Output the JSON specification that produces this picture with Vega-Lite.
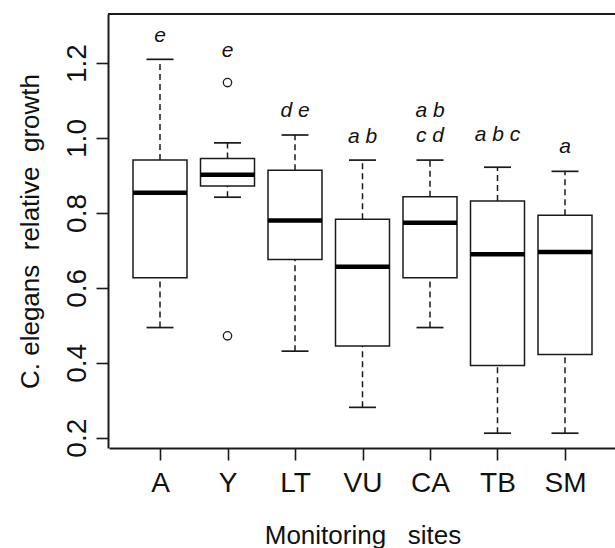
{
  "$schema": "https://vega.github.io/schema/vega-lite/v6.json",
  "autosize": "none",
  "width": 507,
  "height": 434,
  "padding": {"left": 108, "top": 14, "right": 0, "bottom": 100},
  "background": "white",
  "config": {
    "view": {"stroke": null},
    "font": "Liberation Sans, sans-serif",
    "axis": {"grid": false, "labelFlush": false, "labelOverlap": false, "domainColor": "#1a1a1a", "domainWidth": 2, "tickColor": "#1a1a1a", "tickWidth": 1.6, "tickSize": 12, "labelColor": "#111", "titleColor": "#111", "labelFontSize": 28, "titleFontSize": 26, "titleFontWeight": "normal", "labelFont": "Liberation Sans, sans-serif", "titleFont": "Liberation Sans, sans-serif"}
  },
  "datasets": {
    "boxes": [
      {"site": "A", "lower": 0.494, "q1": 0.627, "median": 0.854, "q3": 0.941, "upper": 1.210},
      {"site": "Y", "lower": 0.842, "q1": 0.872, "median": 0.902, "q3": 0.945, "upper": 0.987},
      {"site": "LT", "lower": 0.431, "q1": 0.676, "median": 0.780, "q3": 0.914, "upper": 1.008},
      {"site": "VU", "lower": 0.281, "q1": 0.445, "median": 0.656, "q3": 0.783, "upper": 0.941},
      {"site": "CA", "lower": 0.494, "q1": 0.627, "median": 0.774, "q3": 0.843, "upper": 0.941},
      {"site": "TB", "lower": 0.212, "q1": 0.393, "median": 0.690, "q3": 0.832, "upper": 0.922},
      {"site": "SM", "lower": 0.212, "q1": 0.422, "median": 0.696, "q3": 0.794, "upper": 0.911}
    ],
    "outliers": [
      {"site": "Y", "value": 1.148},
      {"site": "Y", "value": 0.472}
    ],
    "letters": [
      {"site": "A", "label": "e", "value": 1.257},
      {"site": "Y", "label": "e", "value": 1.215},
      {"site": "LT", "label": "d e", "value": 1.055},
      {"site": "VU", "label": "a b", "value": 0.987},
      {"site": "CA", "label": "a b", "value": 1.055},
      {"site": "CA", "label": "c d", "value": 0.990},
      {"site": "TB", "label": "a b c", "value": 0.993},
      {"site": "SM", "label": "a", "value": 0.959}
    ]
  },
  "layer": [
    {
      "data": {"name": "boxes"},
      "mark": {"type": "rule", "color": "#1a1a1a", "strokeWidth": 2},
      "encoding": {
        "y": {"datum": 1.331, "type": "quantitative", "scale": {"domain": [0.1725, 1.331], "nice": false, "zero": false},
          "axis": {"orient": "left", "values": [0.2, 0.4, 0.6, 0.8, 1.0, 1.2], "format": ".1f", "labelAngle": 270, "labelAlign": "center", "labelBaseline": "bottom", "labelPadding": 5, "titlePadding": 20,
            "title": "C. elegans\u00a0\u00a0relative\u00a0\u00a0growth"}}
      }
    },
    {
      "data": {"name": "boxes"},
      "mark": {"type": "rule", "color": "#1a1a1a", "strokeWidth": 1.5, "strokeDash": [6, 4]},
      "encoding": {
        "x": {"field": "site", "type": "nominal", "scale": {"type": "point", "domain": ["A", "Y", "LT", "VU", "CA", "TB", "SM"], "range": [1, 508], "padding": 0.7556},
          "axis": {"orient": "bottom", "labelAngle": 0, "labelPadding": 9, "titlePadding": 25, "title": "Monitoring\u00a0\u00a0\u00a0sites"}},
        "y": {"field": "q3", "type": "quantitative"},
        "y2": {"field": "upper"}
      }
    },
    {
      "data": {"name": "boxes"},
      "mark": {"type": "rule", "color": "#1a1a1a", "strokeWidth": 1.5, "strokeDash": [6, 4]},
      "encoding": {
        "x": {"field": "site", "type": "nominal"},
        "y": {"field": "lower", "type": "quantitative"},
        "y2": {"field": "q1"}
      }
    },
    {
      "data": {"name": "boxes"},
      "mark": {"type": "tick", "color": "#1a1a1a", "size": 27, "thickness": 1.7, "opacity": 1},
      "encoding": {
        "x": {"field": "site", "type": "nominal"},
        "y": {"field": "upper", "type": "quantitative"}
      }
    },
    {
      "data": {"name": "boxes"},
      "mark": {"type": "tick", "color": "#1a1a1a", "size": 27, "thickness": 1.7, "opacity": 1},
      "encoding": {
        "x": {"field": "site", "type": "nominal"},
        "y": {"field": "lower", "type": "quantitative"}
      }
    },
    {
      "data": {"name": "boxes"},
      "mark": {"type": "bar", "fill": "white", "stroke": "#1a1a1a", "strokeWidth": 1.5, "size": 54},
      "encoding": {
        "x": {"field": "site", "type": "nominal"},
        "y": {"field": "q1", "type": "quantitative"},
        "y2": {"field": "q3"}
      }
    },
    {
      "data": {"name": "boxes"},
      "mark": {"type": "tick", "color": "#000", "size": 54, "thickness": 4.5, "opacity": 1},
      "encoding": {
        "x": {"field": "site", "type": "nominal"},
        "y": {"field": "median", "type": "quantitative"}
      }
    },
    {
      "data": {"name": "outliers"},
      "mark": {"type": "point", "shape": "circle", "filled": false, "color": "#1a1a1a", "size": 70, "strokeWidth": 1.3, "opacity": 1},
      "encoding": {
        "x": {"field": "site", "type": "nominal"},
        "y": {"field": "value", "type": "quantitative"}
      }
    },
    {
      "data": {"name": "letters"},
      "mark": {"type": "text", "fontStyle": "italic", "fontSize": 21, "baseline": "alphabetic", "align": "center", "color": "#111", "font": "Liberation Sans, sans-serif"},
      "encoding": {
        "x": {"field": "site", "type": "nominal"},
        "y": {"field": "value", "type": "quantitative"},
        "text": {"field": "label"}
      }
    }
  ]
}
